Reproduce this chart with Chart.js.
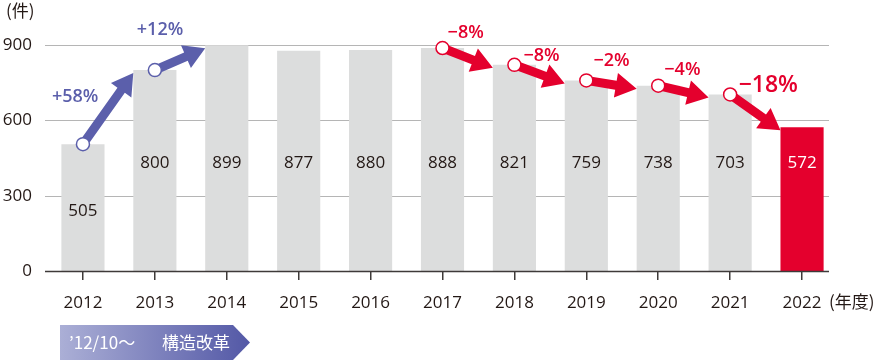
<!DOCTYPE html>
<html>
<head>
<meta charset="utf-8">
<script src="https://cdn.jsdelivr.net/npm/chart.js@4"></script>
<style>
  html, body { margin: 0; padding: 0; background: #fff; }
  #wrap { width: 880px; height: 361px; position: relative; }
</style>
</head>
<body>
<div id="wrap"><canvas id="c" width="880" height="361"></canvas></div>
<script>
const years = ["2012", "2013", "2014", "2015", "2016", "2017", "2018", "2019", "2020", "2021", "2022"];
const counts = [505, 800, 899, 877, 880, 888, 821, 759, 738, 703, 572];
const changes = ["+58%", "+12%", null, null, null, "−8%", "−8%", "−2%", "−4%", "−18%"];
const yTicks = [0, 300, 600, 900];

const BLUE = "#5b5fab";
const RED = "#e4002d";
const GRAY = "#dcdddd";
const TEXT = "#231815";
const FONT = "'Open Sans', 'Noto Sans', sans-serif";
const JP = "'Noto Sans CJK JP', 'Noto Sans', sans-serif";

// label placement relative to arrow midpoint: [dx, dy, font size]
const noteLayout = [[-33, -12, 18], [-20, -29, 18], null, null, null,
  [-2, -25, 18], [2, -18, 18], [0, -24, 18], [-1, -22, 18], [13, -27, 23]];

function arrow(ctx, x1, y1, x2, y2, color) {
  const ang = Math.atan2(y2 - y1, x2 - x1);
  const len = Math.hypot(x2 - x1, y2 - y1);
  const headL = 21, headW = 25, shaft = 9;
  ctx.save();
  ctx.translate(x1, y1);
  ctx.rotate(ang);
  ctx.fillStyle = color;
  ctx.beginPath();
  ctx.moveTo(0, -shaft / 2);
  ctx.lineTo(len - headL, -shaft / 2);
  ctx.lineTo(len - headL, -headW / 2);
  ctx.lineTo(len, 0);
  ctx.lineTo(len - headL, headW / 2);
  ctx.lineTo(len - headL, shaft / 2);
  ctx.lineTo(0, shaft / 2);
  ctx.closePath();
  ctx.fill();
  ctx.restore();
}

const gridPlugin = {
  id: "grid",
  beforeDatasetsDraw(chart) {
    const { ctx, scales } = chart;
    ctx.save();
    yTicks.forEach(v => {
      if (v === 0) return;
      const y = Math.round(scales.y.getPixelForValue(v)) + 0.5;
      ctx.strokeStyle = "#b5b5b5";
      ctx.lineWidth = 1.2;
      ctx.beginPath();
      ctx.moveTo(45, y);
      ctx.lineTo(829, y);
      ctx.stroke();
    });
    ctx.restore();
  }
};

const notesPlugin = {
  id: "notes",
  afterDatasetsDraw(chart) {
    const { ctx, scales } = chart;
    const meta = chart.getDatasetMeta(0);
    ctx.save();
    // zero line on top of bars
    const y0 = Math.round(scales.y.getPixelForValue(0)) + 0.5;
    ctx.strokeStyle = "#3e3a39";
    ctx.lineWidth = 1.5;
    ctx.beginPath();
    ctx.moveTo(45, y0);
    ctx.lineTo(829, y0);
    ctx.stroke();

    // value labels
    ctx.font = "17px " + FONT;
    ctx.textAlign = "center";
    ctx.textBaseline = "middle";
    meta.data.forEach((bar, i) => {
      const y = scales.y.getPixelForValue(i === 0 ? 238 : 428);
      ctx.fillStyle = i === counts.length - 1 ? "#fff" : TEXT;
      ctx.fillText(String(counts[i]), bar.x, y);
    });

    // arrows + percentages
    changes.forEach((txt, i) => {
      if (!txt) return;
      const a = meta.data[i], b = meta.data[i + 1];
      const color = txt.startsWith("+") ? BLUE : RED;
      const x1 = a.x, y1 = a.y;
      const x2 = b.x - b.width / 2, y2 = b.y + 3;
      arrow(ctx, x1, y1, x2, y2, color);
      ctx.beginPath();
      ctx.arc(x1, y1, 6.5, 0, Math.PI * 2);
      ctx.fillStyle = "#fff";
      ctx.fill();
      ctx.lineWidth = 1.5;
      ctx.strokeStyle = color;
      ctx.stroke();
      const [dx, dy, size] = noteLayout[i];
      ctx.fillStyle = color;
      ctx.font = "600 " + size + "px " + FONT;
      ctx.fillText(txt, (x1 + x2) / 2 + dx, (y1 + y2) / 2 + dy);
    });

    // unit labels
    ctx.fillStyle = TEXT;
    ctx.font = "17px " + JP;
    ctx.textAlign = "left";
    ctx.fillText("(件)", 6, 11);
    ctx.fillText("(年度)", 829, 302);

    // banner
    const g = ctx.createLinearGradient(60, 0, 250, 0);
    g.addColorStop(0, "#abafd6");
    g.addColorStop(1, "#5358a6");
    ctx.fillStyle = g;
    ctx.beginPath();
    ctx.moveTo(60, 325);
    ctx.lineTo(233, 325);
    ctx.lineTo(250, 342.5);
    ctx.lineTo(233, 360);
    ctx.lineTo(60, 360);
    ctx.closePath();
    ctx.fill();
    ctx.fillStyle = "#fff";
    ctx.font = "17px " + JP;
    ctx.fillText("’12/10〜", 69, 343);
    ctx.fillText("構造改革", 162, 343);
    ctx.restore();
  }
};

new Chart(document.getElementById("c"), {
  type: "bar",
  data: {
    labels: years,
    datasets: [{
      data: counts,
      backgroundColor: counts.map((_, i) => i === counts.length - 1 ? RED : GRAY),
      borderWidth: 0,
      barPercentage: 0.6,
      categoryPercentage: 1
    }]
  },
  options: {
    responsive: false,
    animation: false,
    devicePixelRatio: 1,
    layout: { padding: { top: 45, right: 42, left: 0, bottom: 0 } },
    plugins: { legend: { display: false }, tooltip: { enabled: false } },
    scales: {
      x: {
        afterFit: s => { s.height = 90; },
        border: { display: false },
        grid: { drawOnChartArea: false, drawTicks: true, tickLength: 9, offset: false, color: "#3e3a39", lineWidth: 1.5 },
        ticks: { color: TEXT, font: { family: FONT, size: 17 }, padding: 13, maxRotation: 0, autoSkip: false }
      },
      y: {
        min: 0, max: 900,
        afterFit: s => { s.width = 47; },
        afterBuildTicks: s => { s.ticks = yTicks.map(v => ({ value: v })); },
        border: { display: false },
        grid: { display: false, drawTicks: false },
        ticks: { color: TEXT, font: { family: FONT, size: 17 }, padding: 15 }
      }
    }
  },
  plugins: [gridPlugin, notesPlugin]
});
</script>
</body>
</html>
